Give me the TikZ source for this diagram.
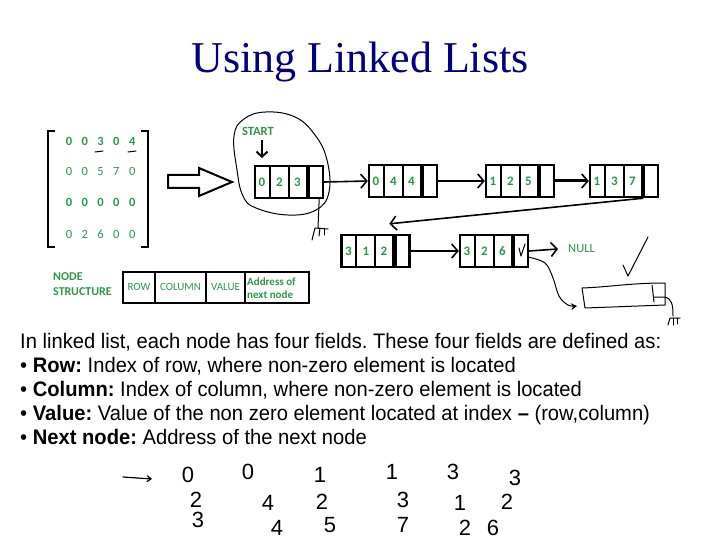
\documentclass[tikz,border=0pt]{standalone}
\usepackage{fontspec}
\setmainfont{Liberation Serif}
\newfontfamily\bodyfont{Liberation Sans}[FakeStretch=0.96]
\newfontfamily\greenfont{Carlito}[Numbers=Lining]
\newfontfamily\handfont{Liberation Sans}
\usetikzlibrary{arrows.meta}
\definecolor{navytitle}{RGB}{0,0,128}
\definecolor{cellgreen}{RGB}{45,150,75}
\tikzset{
    listbox/.style={draw, line width=2.4pt, minimum width=68pt, minimum height=32pt, inner sep=0pt},
    celltext/.style={cellgreen, font=\greenfont\bfseries\fontsize{13}{13}\selectfont, inner sep=0pt},
    link/.style={line width=1.6pt, -{Straight Barb[length=6pt,width=14pt,line width=1.6pt]}},
    sketch/.style={line width=1pt, line cap=round, line join=round},
    bodyline/.style={anchor=base west, inner sep=0pt, font=\bodyfont\fontsize{21}{21}\selectfont},
    handdigit/.style={font=\handfont\fontsize{22}{22}\selectfont, inner sep=0pt}
}
% one list node: name, x, y, row, column, value
\newcommand{\listnode}[6]{
    \node[listbox] (#1) at (#2,#3) {};
    \draw[line width=2pt] ([xshift=16pt]#1.north west) -- ([xshift=16pt]#1.south west);
    \draw[line width=2pt] ([xshift=35pt]#1.north west) -- ([xshift=35pt]#1.south west);
    \draw[line width=4.5pt] ([xshift=54pt]#1.north west) -- ([xshift=54pt]#1.south west);
    \node[celltext] (#1r) at ([xshift=8pt]#1.west) {#4};
    \node[celltext] (#1c) at ([xshift=25.5pt]#1.west) {#5};
    \node[celltext] (#1v) at ([xshift=43.5pt]#1.west) {#6};
}

\begin{document}
\frenchspacing
\begin{tikzpicture}[x=1pt, y=-1pt]
    \useasboundingbox (0,0) rectangle (720,540);

    % Title
    \node[navytitle, anchor=base, inner sep=0pt, font=\fontsize{44}{44}\selectfont] (title) at (360,73) {Using Linked Lists};

    % Sparse matrix
    \draw[line width=2.4pt] (55,131) -- (48,131) -- (48,247) -- (55,247);
    \draw[line width=2.4pt] (141,131) -- (148,131) -- (148,247) -- (141,247);
    \foreach \row/\y/\w in {{0,0,3,0,4}/146/\bfseries, {0,0,5,7,0}/176/\mdseries, {0,0,0,0,0}/207/\bfseries, {0,2,6,0,0}/239/\mdseries} {
        \foreach \v [count=\i] in \row {
            \node[cellgreen, anchor=base, inner sep=0pt, font=\greenfont\fontsize{12.5}{12.5}\selectfont\w] at ({69+15.8*(\i-1)},\y) {\v};
        }
    }
    \draw[sketch] (95,152) -- (103,151);
    \draw[sketch] (128,152) -- (136,151);

    % Hollow arrow
    \draw[line width=2pt, line join=miter] (168,175) -- (199,175) -- (199,168) -- (232,182) -- (199,196) -- (199,188) -- (168,188) -- cycle;

    % START region
    \draw[sketch] plot[smooth cycle, tension=0.7] coordinates {(234,136) (244,119) (266,112) (295,117) (315,135) (327,160) (329,192) (316,210) (288,215) (256,208) (243,196) (237,170)};
    \node[celltext, font=\greenfont\bfseries\fontsize{12.5}{12.5}\selectfont] (start) at (258,131) {START};
    \draw[line width=2pt, -{Straight Barb[length=5pt,width=11pt,line width=2pt]}] (262,140) -- (262,158);

    % List nodes
    \listnode{n1}{289}{182}{0}{2}{3}
    \listnode{n2}{403}{181}{0}{4}{4}
    \listnode{n3}{520}{181}{1}{2}{5}
    \listnode{n4}{624}{181}{1}{3}{7}
    \listnode{n5}{375.5}{251}{3}{1}{2}
    \listnode{n6}{494}{251}{3}{2}{6}
    \node[cellgreen, anchor=west, inner sep=0pt, font=\greenfont\fontsize{12.5}{12.5}\selectfont] (null) at (568,249) {NULL};

    % Links
    \draw[link] (n1.east) -- (n2.west);
    \draw[link] (n2.east) -- (n3.west);
    \draw[link, line width=3pt] (n3.east) -- (n4.west);
    \draw[link] ([xshift=-16pt]n4.south east) -- ([xshift=49pt,yshift=10pt]n5.north west);
    \draw[link] (n5.east) -- (n6.west);
    \draw[link] (n6.east) -- ([xshift=-10pt]null.west);

    % Ground under first node
    \draw[sketch] ([xshift=-5pt]n1.south east) -- (318,228);
    \draw[sketch] (312,240) -- (315,228) -- (328,229);
    \draw[sketch] (320,228) -- (319,236);
    \draw[sketch] (324,229) -- (324,235);

    % Sketch of the last node
    \draw[sketch] (519,248) -- (521,256) -- (525,244);
    \draw[sketch, -{Stealth[open, length=6pt, width=7pt]}] plot[smooth, tension=0.6] coordinates {(528,257) (545,263) (553,278) (559,296) (568,305) (577,306)};
    \draw[sketch] (582,288) .. controls (610,287) and (630,283) .. (665,283) -- (665,305) -- (585,308) -- cycle;
    \draw[sketch] (652,285) -- (654,302);
    \draw[sketch] (654,297) -- (664,297) .. controls (672,298) and (673,305) .. (673,316);
    \draw[sketch] (668,325) -- (670,318) -- (680,318);
    \draw[sketch] (673,318) -- (673,325);
    \draw[sketch] (677,318) -- (677,324);
    \draw[sketch] (623,265) -- (628,276) -- (648,237);

    % Node structure
    \node[cellgreen, anchor=west, align=left, inner sep=0pt, font=\greenfont\bfseries\fontsize{12}{15}\selectfont] (structlabel) at (53,284) {NODE\\STRUCTURE};
    \node[listbox, minimum width=186pt, minimum height=31pt] (nstruct) at (216,287.5) {};
    \foreach \xx in {155,206,245} {
        \draw[line width=2pt] (\xx,272) -- (\xx,303);
    }
    \node[celltext, font=\greenfont\fontsize{11}{11}\selectfont] (frow) at (139,287) {ROW};
    \node[celltext, font=\greenfont\fontsize{11}{11}\selectfont] (fcol) at (180.5,287) {COLUMN};
    \node[celltext, font=\greenfont\fontsize{11}{11}\selectfont] (fval) at (225.5,287) {VALUE};
    \node[celltext, anchor=west, align=left, font=\greenfont\bfseries\fontsize{11}{13}\selectfont] (fnext) at (247,288) {Address of\\next node};

    % Description
    \node[bodyline] (d1) at (20,348) {In linked list, each node has four fields. These four fields are defined as:};
    \node[bodyline] (d2) at (20,372) {\textbullet\ \textbf{Row:} Index of row, where non-zero element is located};
    \node[bodyline] (d3) at (20,396) {\textbullet\ \textbf{Column:} Index of column, where non-zero element is located};
    \node[bodyline] (d4) at (20,420) {\textbullet\ \textbf{Value:} Value of the non zero element located at index \textbf{–} (row,column)};
    \node[bodyline] (d5) at (20,444) {\textbullet\ \textbf{Next node:} Address of the next node};

    % Handwritten triples
    \draw[sketch, line width=1.2pt, -{Straight Barb[length=4pt,width=6pt]}] (123,477) -- (152,479);
    \foreach \x/\y/\v in {188/475/0, 196/500/2, 198/520/3, 248/472/0, 268/503/4, 277/528/4,
                          320/475/1, 322/502/2, 330/525/5, 392/472/1, 403/500/3, 403/525/7,
                          453/472/3, 460/503/1, 465/528/2, 515/478/3, 507/502/2, 493/528/6} {
        \node[handdigit] at (\x,\y) {\v};
    }
\end{tikzpicture}
\end{document}
